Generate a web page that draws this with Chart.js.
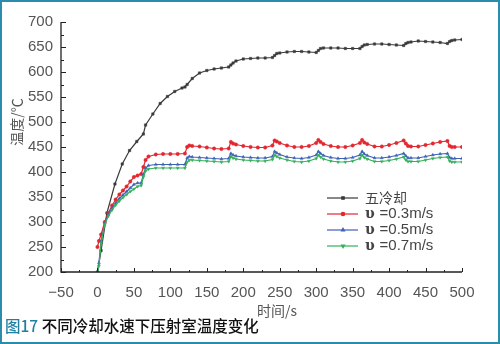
<!DOCTYPE html>
<html>
<head>
<meta charset="utf-8">
<script src="https://cdn.jsdelivr.net/npm/chart.js@4.4.1/dist/chart.umd.min.js"></script>
<style>
  html, body { margin: 0; padding: 0; background: #fff; }
  #wrap { position: relative; width: 500px; height: 344px; overflow: hidden; background: #fff; }
  #wrap canvas { position: absolute; left: 0; top: 0; }
  #frame { position: absolute; left: 0; top: 0; width: 500px; height: 344px; box-sizing: border-box;
           border: 2px solid #2b8cab; pointer-events: none; }
  #caption { position: absolute; left: 5px; top: 315px; font: 500 15.5px "Noto Sans CJK SC", sans-serif;
             color: #111; line-height: 20px; white-space: nowrap; }
  #caption .fig { color: #1f7fa3; }
</style>
</head>
<body>
<div id="wrap">
  <canvas id="chart" width="500" height="344"></canvas>
  <div id="frame"></div>
  <div id="caption"><span class="fig">图17</span> 不同冷却水速下压射室温度变化</div>
</div>
<script>
// time axis (s) for the uncooled run
const T_NOCOOL = [0, 5, 13, 24, 34, 44, 54, 63, 66, 76, 86, 96, 106, 116, 120, 123, 130, 140, 150, 160, 170,
  180, 183, 186, 190, 200, 210, 220, 230, 240, 243, 246, 250, 260, 270, 280, 290, 300, 303, 306, 310, 320,
  330, 340, 350, 360, 363, 366, 370, 380, 390, 400, 410, 420, 423, 426, 430, 440, 450, 460, 470, 480, 483,
  486, 490, 500];
const NOCOOL = [200, 243, 318, 376, 416, 443, 461, 476, 494, 516, 537, 551, 561, 568, 570, 575, 587, 598, 603,
  606, 608, 610, 614, 618, 622, 626, 627, 628, 628, 629, 633, 637, 638, 640, 641, 641, 640, 639, 643, 647,
  648, 648, 648, 647, 647, 647, 651, 654, 655, 656, 656, 655, 654, 653, 657, 659, 660, 662, 661, 660, 659,
  657, 661, 663, 664, 665];

// time axis (s) for the cooled runs
const T_COOL = [0, 2, 5, 10, 15, 20, 25, 30, 35, 40, 45, 50, 55, 60, 63, 66, 70, 80, 90, 100, 110, 120, 123,
  126, 130, 140, 150, 160, 170, 180, 183, 186, 190, 200, 210, 220, 230, 240, 243, 246, 250, 260, 270, 280,
  290, 300, 303, 306, 310, 320, 330, 340, 350, 360, 363, 366, 370, 380, 390, 400, 410, 420, 423, 426, 430,
  440, 450, 460, 470, 480, 483, 486, 490, 500];
const V03 = [250, 262, 275, 300, 318, 333, 345, 355, 363, 371, 381, 390, 393, 396, 410, 424, 431, 435, 436,
  436, 436, 437, 450, 453, 452, 451, 449, 447, 446, 447, 460, 457, 455, 452, 450, 449, 449, 453, 463, 461,
  458, 453, 450, 450, 452, 458, 464, 460, 456, 452, 450, 450, 453, 458, 464, 459, 456, 451, 451, 454, 458,
  463, 457, 452, 451, 451, 454, 457, 460, 462, 452, 450, 450, 450];
const V05 = [200, 218, 262, 298, 315, 328, 338, 347, 354, 361, 368, 375, 378, 378, 395, 408, 413, 415, 415,
  415, 415, 415, 428, 431, 430, 429, 428, 427, 426, 427, 437, 434, 432, 430, 429, 428, 428, 431, 441, 438,
  435, 430, 428, 427, 429, 434, 441, 437, 433, 429, 427, 427, 429, 434, 441, 436, 433, 428, 428, 430, 433,
  437, 432, 428, 428, 428, 431, 434, 436, 437, 429, 427, 427, 427];
const V07 = [200, 212, 258, 295, 312, 324, 334, 342, 349, 355, 361, 366, 371, 373, 390, 402, 406, 408, 408,
  408, 408, 408, 420, 424, 424, 423, 422, 421, 420, 421, 431, 428, 426, 424, 423, 422, 422, 425, 434, 431,
  428, 424, 421, 420, 422, 427, 434, 430, 426, 422, 420, 420, 422, 427, 434, 429, 426, 421, 421, 423, 426,
  430, 424, 421, 421, 421, 424, 427, 429, 430, 422, 420, 420, 420];

const SERIES_NAMES = ["五冷却", "υ =0.3m/s", "υ =0.5m/s", "υ =0.7m/s"];
const X_TICKS = [-50, 0, 50, 100, 150, 200, 250, 300, 350, 400, 450, 500];
const Y_TICKS = [200, 250, 300, 350, 400, 450, 500, 550, 600, 650, 700];

const NUM_FONT = "'Liberation Sans Narrow', 'Liberation Sans', sans-serif";
const CJK_FONT = "'Noto Sans CJK SC', sans-serif";

const toPoints = (xs, ys) => xs.map((t, i) => ({ x: t, y: ys[i] }));

function series(label, xs, ys, color, pointStyle, rotation, order) {
  return {
    label, data: toPoints(xs, ys), order,
    borderColor: color, backgroundColor: color,
    borderWidth: 1.2, pointRadius: 1.7, pointBorderWidth: 0.5,
    pointStyle, rotation, tension: 0,
  };
}

/* ── axes ticks, titles and legend drawn by hand ── */
const decor = {
  id: "decor",
  afterDraw(chart) {
    const { ctx, chartArea: a, scales: { x, y } } = chart;
    ctx.save();
    ctx.strokeStyle = "#222";
    ctx.lineWidth = 1.3;
    ctx.beginPath();
    ctx.moveTo(a.left, a.top);
    ctx.lineTo(a.left, a.bottom);
    ctx.lineTo(a.right, a.bottom);
    ctx.stroke();

    ctx.lineWidth = 1;
    for (let v = Y_TICKS[0]; v <= Y_TICKS[Y_TICKS.length - 1]; v += 25) {
      const py = Math.round(y.getPixelForValue(v)) + 0.5;
      const len = v % 50 === 0 ? 5 : 3;
      ctx.beginPath(); ctx.moveTo(a.left, py); ctx.lineTo(a.left + len, py); ctx.stroke();
    }
    for (let v = X_TICKS[0]; v <= X_TICKS[X_TICKS.length - 1]; v += 25) {
      const px = Math.round(x.getPixelForValue(v)) + 0.5;
      const len = v % 50 === 0 ? 4 : 2;
      ctx.beginPath(); ctx.moveTo(px, a.bottom); ctx.lineTo(px, a.bottom - len); ctx.stroke();
    }

    // axis titles
    ctx.fillStyle = "#555";
    ctx.font = "14px " + CJK_FONT;
    ctx.textAlign = "center";
    ctx.textBaseline = "middle";
    ctx.fillText("时间/s", 277, 311);
    ctx.save();
    ctx.translate(17, 122);
    ctx.rotate(-Math.PI / 2);
    ctx.fillText("温度/℃", 0, 0);
    ctx.restore();

    // legend
    chart.data.datasets.forEach((ds, i) => {
      const ly = 198 + i * 16;
      ctx.strokeStyle = ds.borderColor; ctx.fillStyle = ds.borderColor; ctx.lineWidth = 1.2;
      ctx.beginPath(); ctx.moveTo(327, ly); ctx.lineTo(358, ly); ctx.stroke();
      Chart.helpers.drawPoint(ctx, { pointStyle: ds.pointStyle, radius: 1.7, rotation: ds.rotation || 0, borderWidth: 0.5 }, 343, ly);
      ctx.textAlign = "left";
      ctx.fillStyle = "#444";
      let tx = 365;
      let text = ds.label;
      if (text.startsWith("υ")) {
        ctx.font = "bold 14px 'DejaVu Serif', serif";
        ctx.fillText("υ", tx, ly);
        tx += ctx.measureText("υ ").width;
        text = text.slice(2);
        ctx.font = "15px " + NUM_FONT;
      } else {
        ctx.font = "14px " + CJK_FONT;
      }
      ctx.fillText(text, tx, ly);
    });
    ctx.restore();
  }
};

new Chart(document.getElementById("chart"), {
  type: "line",
  data: {
    datasets: [
      series(SERIES_NAMES[0], T_NOCOOL, NOCOOL, "#3a3a3a", "rect", 0, 3),
      series(SERIES_NAMES[1], T_COOL, V03, "#e3262f", "circle", 0, 2),
      series(SERIES_NAMES[2], T_COOL, V05, "#3f62b5", "triangle", 0, 1),
      series(SERIES_NAMES[3], T_COOL, V07, "#35b05a", "triangle", 180, 0),
    ],
  },
  options: {
    responsive: false,
    animation: false,
    devicePixelRatio: 1,
    layout: { padding: { left: 0, top: 22, right: 38, bottom: 0 } },
    plugins: { legend: { display: false }, tooltip: { enabled: false } },
    scales: {
      x: {
        type: "linear", min: X_TICKS[0], max: X_TICKS[X_TICKS.length - 1],
        afterBuildTicks: s => { s.ticks = X_TICKS.map(v => ({ value: v })); },
        afterFit: s => { s.height = 72; s.paddingLeft = 0; s.paddingRight = 0; },
        grid: { display: false, drawTicks: false }, border: { display: false },
        ticks: { padding: 12, color: "#555", font: { family: NUM_FONT, size: 15 },
                 maxRotation: 0, autoSkip: false, callback: v => String(v).replace("-", "−") },
      },
      y: {
        min: Y_TICKS[0], max: Y_TICKS[Y_TICKS.length - 1],
        afterBuildTicks: s => { s.ticks = Y_TICKS.map(v => ({ value: v })); },
        afterFit: s => { s.width = 61; s.paddingTop = 0; s.paddingBottom = 0; },
        grid: { display: false, drawTicks: false }, border: { display: false },
        ticks: { padding: 8, color: "#555", font: { family: NUM_FONT, size: 15 }, autoSkip: false },
      },
    },
  },
  plugins: [decor],
});
</script>
</body>
</html>
